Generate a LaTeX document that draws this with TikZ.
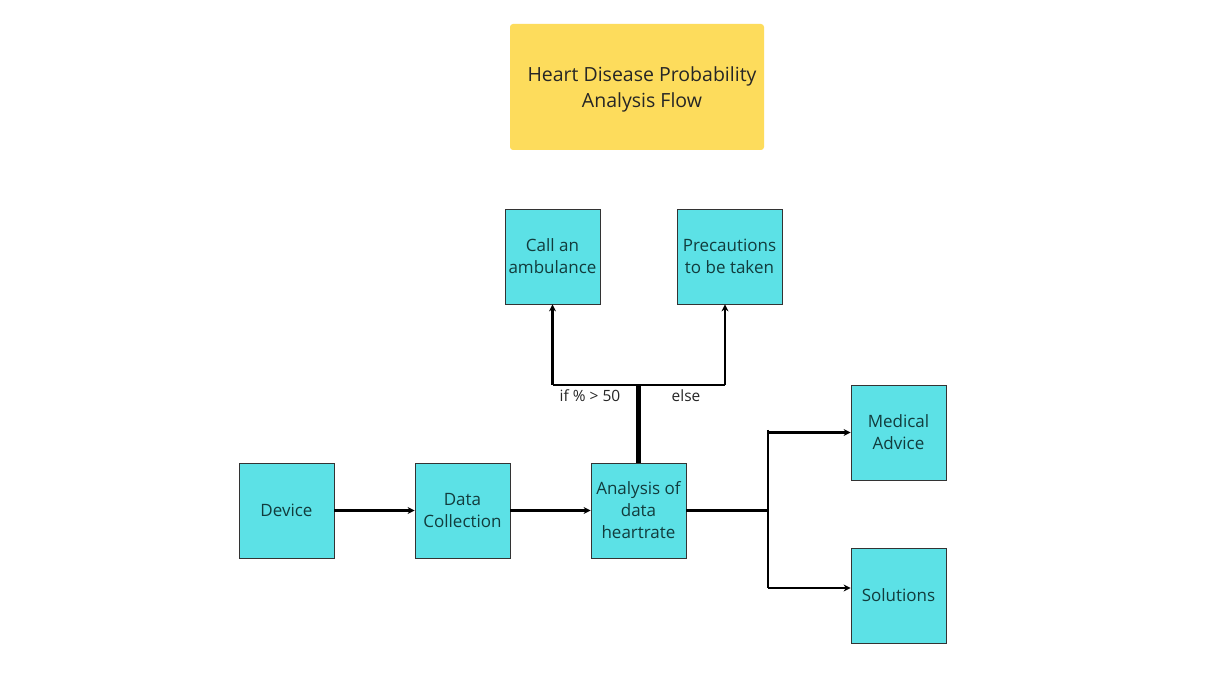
\documentclass[tikz,border=0pt]{standalone}
\usepackage{fontspec}
\setmainfont{Open Sans}
\usetikzlibrary{arrows.meta}
\definecolor{boxcyan}{HTML}{5CE1E6}
\definecolor{titleyellow}{HTML}{FDDC5C}
\definecolor{boxtext}{HTML}{123C3D}
\tikzset{
  box/.style={draw=black!80, line width=0.8pt, fill=boxcyan, text=boxtext, minimum width=95pt, minimum height=95pt, align=center, inner sep=2pt, font=\fontsize{17}{22}\selectfont},
  link/.style={line width=2.4pt, -{Stealth[length=7pt,width=7pt]}},
  plain/.style={line width=2.4pt},
  branch/.style={font=\fontsize{15.5}{18}\selectfont, text=black!85}
}
\begin{document}
\begin{tikzpicture}[x=1pt,y=1pt]
\useasboundingbox[fill=white] (0,0) rectangle (1216,684);
\node[fill=titleyellow, rounded corners=3pt, minimum width=254pt, minimum height=126pt] (title) at (637,597) {};
\node[align=center, text=black!85, font=\fontsize{19.5}{26}\selectfont] (titletext) at ([xshift=5pt,yshift=-2pt]title.center) {Heart Disease Probability\\Analysis Flow};
\node[box] (ambulance) at (552.5,427.5) {Call an\\ambulance};
\node[box, minimum width=105pt] (precaution) at (729.5,427.5) {Precautions\\to be taken};
\node[box] (device) at (286.5,173.5) {Device};
\node[box] (collection) at (462.5,173.5) {Data\\Collection};
\node[box] (analysis) at (638.5,173.5) {Analysis of\\data\\heartrate};
\node[box] (advice) at (898.5,251.5) {Medical\\Advice};
\node[box] (solutions) at (898.5,88.5) {Solutions};
\coordinate (split) at (638.5,299);
\coordinate (elseend) at (725,299);
\coordinate (fork) at (768,173.5);
\coordinate (forktop) at (768,254);
\coordinate (forkbottom) at (768,96);
\draw[link] (device) -- (collection);
\draw[link] (collection) -- (analysis);
\draw[line width=4.5pt] (analysis.north) -- (split);
\draw[plain] (ambulance.south |- split) -- (elseend);
\draw[link] (ambulance.south |- split) -- (ambulance.south);
\draw[link] (elseend) -- (elseend |- precaution.south);
\node[branch] (ifbig) at (590,288) {if \% > 50};
\node[branch] (otherwise) at (686,288) {else};
\draw[plain] (analysis.east) -- (fork);
\draw[plain] (forktop) -- (forkbottom);
\draw[link] (forktop |- advice.west) -- (advice.west);
\draw[link] (forkbottom) -- (advice.west |- forkbottom);
\end{tikzpicture}
\end{document}
